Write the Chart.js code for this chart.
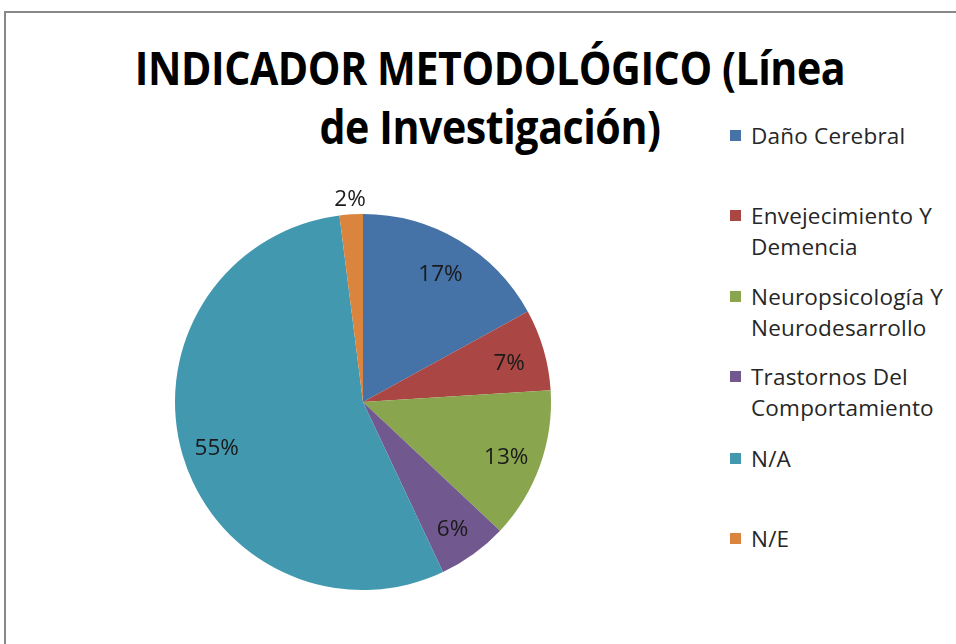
<!DOCTYPE html>
<html>
<head>
<meta charset="utf-8">
<script src="https://cdn.jsdelivr.net/npm/chart.js@4"></script>
<style>
    body { margin: 0; background: #fff; width: 956px; height: 644px; overflow: hidden; position: relative; font-family: "Open Sans", sans-serif; }
    .frame { position: absolute; left: 4px; top: 11px; width: 1000px; height: 700px; border: 2px solid #888; }
    .title { position: absolute; left: 40px; width: 900px; top: 38px; text-align: center; font-family: "Open Sans", sans-serif; font-weight: bold; font-size: 47px; line-height: 59px; color: #000; letter-spacing: -0.5px; white-space: nowrap; transform: scaleX(0.875); transform-origin: 450px 0; }
    #chartBox { position: absolute; left: 123px; top: 162px; width: 480px; height: 480px; }
    #legend { position: absolute; left: 730px; top: 0; }
    .legend-item { position: absolute; left: 0; width: 230px; font-size: 22.5px; line-height: 31px; color: #262626; padding-left: 21px; white-space: nowrap; letter-spacing: 0.2px; }
    .legend-item span.box { position: absolute; left: 0; top: 10px; width: 11px; height: 11px; }
</style>
</head>
<body>
<div class="frame"></div>
<div class="title">INDICADOR METODOLÓGICO (Línea<br>de Investigación)</div>
<div id="chartBox"><canvas id="pieChart" width="480" height="480"></canvas></div>
<div id="legend"></div>
<script>
const categories = [
    ['Daño Cerebral'],
    ['Envejecimiento Y', 'Demencia'],
    ['Neuropsicología Y', 'Neurodesarrollo'],
    ['Trastornos Del', 'Comportamiento'],
    ['N/A'],
    ['N/E']
];
const percents = [17, 7, 13, 6, 55, 2];
const colors = ['#4572A7', '#AA4643', '#89A54E', '#71588F', '#4198AF', '#DB843D'];
// legend rows, top of first text line
const legendTops = [120, 200, 281, 361, 443, 523];

const legend = document.getElementById('legend');
legend.innerHTML = categories.map((lines, i) => `
    <div class="legend-item" style="top:${legendTops[i]}px">
        <span class="box" style="background:${colors[i]}"></span>${lines.join('<br>')}
    </div>
`).join('');

// percent labels inside the slices (small ones go outside)
const pctLabels = {
    id: 'pctLabels',
    afterDatasetsDraw(chart) {
        const ctx = chart.ctx;
        const meta = chart.getDatasetMeta(0);
        ctx.save();
        ctx.font = '22.5px "Open Sans"';
        ctx.fillStyle = '#1a1a1a';
        ctx.textAlign = 'center';
        ctx.textBaseline = 'middle';
        meta.data.forEach((arc, i) => {
            const p = arc.getProps(['x', 'y', 'startAngle', 'endAngle', 'outerRadius'], true);
            const mid = (p.startAngle + p.endAngle) / 2;
            const r = percents[i] < 4 ? p.outerRadius + 19 : p.outerRadius * 0.81;
            ctx.fillText(percents[i] + '%', p.x + Math.cos(mid) * r, p.y + Math.sin(mid) * r + 4);
        });
        ctx.restore();
    }
};

new Chart(document.getElementById('pieChart'), {
    type: 'pie',
    data: {
        labels: categories.map(l => l.join(' ')),
        datasets: [{
            data: percents,
            backgroundColor: colors,
            borderWidth: 0
        }]
    },
    options: {
        responsive: false,
        animation: false,
        layout: { padding: 52 },
        plugins: {
            legend: { display: false },
            tooltip: { enabled: false }
        }
    },
    plugins: [pctLabels]
});
</script>
</body>
</html>
